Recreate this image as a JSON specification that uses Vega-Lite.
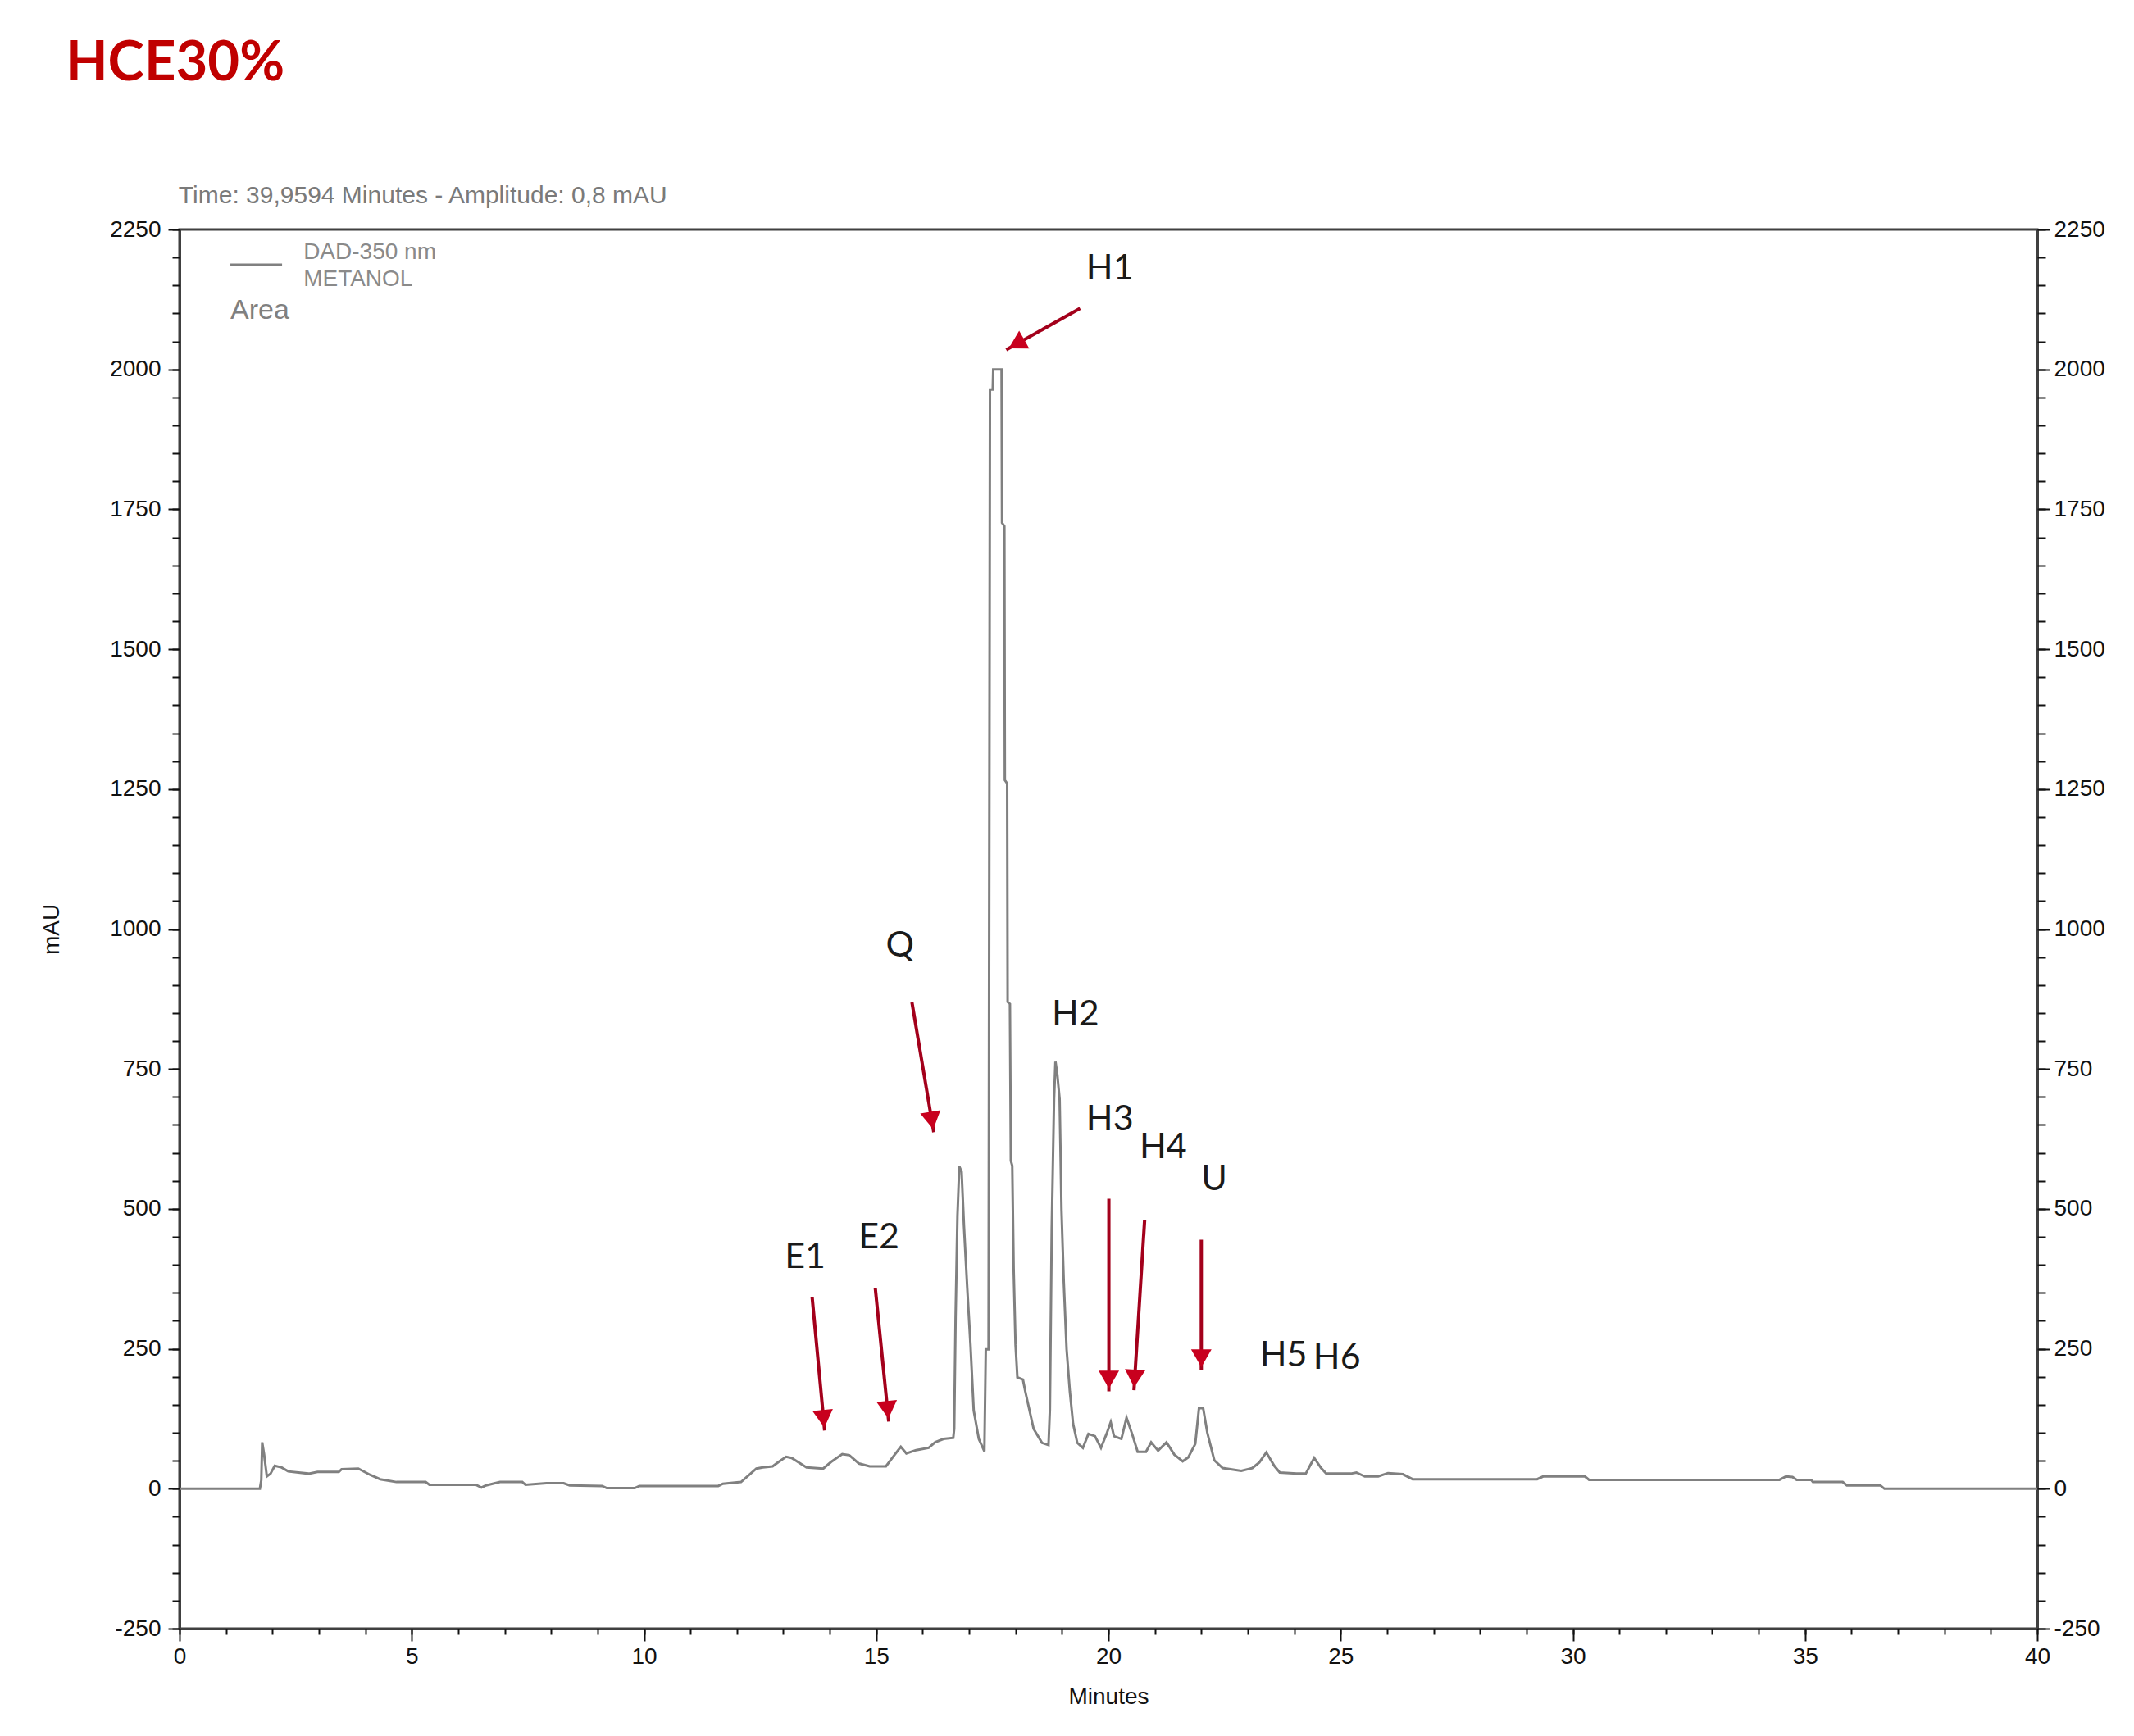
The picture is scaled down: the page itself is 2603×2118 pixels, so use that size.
{
  "$schema": "https://vega.github.io/schema/vega-lite/v6.json",
  "width": 2266,
  "height": 1707,
  "autosize": {"type": "none"},
  "padding": {"left": 219, "top": 280, "right": 118, "bottom": 131},
  "background": "white",
  "view": {"stroke": "#404040", "strokeWidth": 3},
  "title": {
    "text": "HCE30%",
    "anchor": "start",
    "frame": "group",
    "dx": -139,
    "offset": 59,
    "baseline": "alphabetic",
    "font": "Lato",
    "fontSize": 67,
    "fontWeight": "bold",
    "color": "#C00000"
  },
  "config": {
    "axis": {
      "domainColor": "#404040",
      "domainWidth": 3,
      "tickColor": "#111111",
      "tickWidth": 2,
      "labelFont": "'Liberation Sans Narrow', 'Liberation Sans', Arial, sans-serif",
      "labelFontSize": 28,
      "labelColor": "#111111",
      "titleFont": "'Liberation Sans', Arial, sans-serif",
      "titleFontSize": 28,
      "titleFontWeight": "normal",
      "titleColor": "#111111",
      "grid": false,
      "labelFlush": false,
      "labelOverlap": false,
      "labelBound": false
    }
  },
  "datasets": {
    "curve": [
      {"t": 0, "v": 0}, {"t": 1.73, "v": 0}, {"t": 1.76, "v": 15}, {"t": 1.78, "v": 83}, {"t": 1.82, "v": 62},
      {"t": 1.88, "v": 22}, {"t": 1.96, "v": 27}, {"t": 2.05, "v": 41}, {"t": 2.2, "v": 38}, {"t": 2.34, "v": 31},
      {"t": 2.78, "v": 27}, {"t": 2.97, "v": 30}, {"t": 3.43, "v": 30}, {"t": 3.49, "v": 35}, {"t": 3.85, "v": 36},
      {"t": 4.1, "v": 25}, {"t": 4.32, "v": 17}, {"t": 4.67, "v": 12}, {"t": 5.3, "v": 12}, {"t": 5.38, "v": 7},
      {"t": 6.38, "v": 7}, {"t": 6.5, "v": 2}, {"t": 6.6, "v": 6}, {"t": 6.9, "v": 12}, {"t": 7.38, "v": 12},
      {"t": 7.45, "v": 7}, {"t": 7.9, "v": 10}, {"t": 8.27, "v": 10}, {"t": 8.4, "v": 6}, {"t": 9.1, "v": 5},
      {"t": 9.2, "v": 1}, {"t": 9.8, "v": 1}, {"t": 9.9, "v": 5}, {"t": 11.6, "v": 5}, {"t": 11.7, "v": 9},
      {"t": 12.09, "v": 12}, {"t": 12.42, "v": 36}, {"t": 12.56, "v": 38}, {"t": 12.77, "v": 40}, {"t": 12.9, "v": 48},
      {"t": 13.06, "v": 57}, {"t": 13.18, "v": 55}, {"t": 13.5, "v": 38}, {"t": 13.86, "v": 36}, {"t": 14.03, "v": 48},
      {"t": 14.27, "v": 62}, {"t": 14.42, "v": 60}, {"t": 14.63, "v": 45}, {"t": 14.86, "v": 40}, {"t": 15.21, "v": 40},
      {"t": 15.39, "v": 60}, {"t": 15.53, "v": 75}, {"t": 15.65, "v": 63}, {"t": 15.86, "v": 69}, {"t": 16.13, "v": 73},
      {"t": 16.27, "v": 83}, {"t": 16.45, "v": 89}, {"t": 16.66, "v": 91}, {"t": 16.68, "v": 107}, {"t": 16.71, "v": 307},
      {"t": 16.75, "v": 488}, {"t": 16.79, "v": 576}, {"t": 16.84, "v": 566}, {"t": 16.89, "v": 470}, {"t": 16.96, "v": 360},
      {"t": 17.03, "v": 258}, {"t": 17.1, "v": 140}, {"t": 17.21, "v": 89}, {"t": 17.33, "v": 67}, {"t": 17.36, "v": 249},
      {"t": 17.42, "v": 249}, {"t": 17.45, "v": 1964}, {"t": 17.51, "v": 1964}, {"t": 17.52, "v": 2000}, {"t": 17.7, "v": 2000},
      {"t": 17.71, "v": 1726}, {"t": 17.76, "v": 1720}, {"t": 17.77, "v": 1266}, {"t": 17.82, "v": 1260}, {"t": 17.83, "v": 870},
      {"t": 17.88, "v": 866}, {"t": 17.9, "v": 586}, {"t": 17.93, "v": 577}, {"t": 17.96, "v": 393}, {"t": 18.0, "v": 258},
      {"t": 18.04, "v": 199}, {"t": 18.16, "v": 195}, {"t": 18.21, "v": 174}, {"t": 18.39, "v": 107}, {"t": 18.57, "v": 82},
      {"t": 18.71, "v": 78}, {"t": 18.74, "v": 141}, {"t": 18.78, "v": 464}, {"t": 18.83, "v": 696}, {"t": 18.86, "v": 763},
      {"t": 18.9, "v": 740}, {"t": 18.95, "v": 696}, {"t": 18.99, "v": 498}, {"t": 19.04, "v": 368}, {"t": 19.1, "v": 249},
      {"t": 19.17, "v": 174}, {"t": 19.24, "v": 116}, {"t": 19.33, "v": 82}, {"t": 19.45, "v": 73}, {"t": 19.57, "v": 98},
      {"t": 19.71, "v": 94}, {"t": 19.84, "v": 73}, {"t": 19.96, "v": 98}, {"t": 20.05, "v": 119}, {"t": 20.12, "v": 94},
      {"t": 20.28, "v": 89}, {"t": 20.39, "v": 127}, {"t": 20.51, "v": 98}, {"t": 20.63, "v": 66}, {"t": 20.81, "v": 66},
      {"t": 20.92, "v": 83}, {"t": 21.07, "v": 68}, {"t": 21.25, "v": 83}, {"t": 21.42, "v": 61}, {"t": 21.6, "v": 49},
      {"t": 21.72, "v": 56}, {"t": 21.87, "v": 80}, {"t": 21.95, "v": 144}, {"t": 22.04, "v": 144}, {"t": 22.13, "v": 100},
      {"t": 22.28, "v": 51}, {"t": 22.46, "v": 37}, {"t": 22.86, "v": 32}, {"t": 23.1, "v": 37}, {"t": 23.25, "v": 47},
      {"t": 23.4, "v": 65}, {"t": 23.57, "v": 41}, {"t": 23.69, "v": 29}, {"t": 24.05, "v": 27}, {"t": 24.25, "v": 27},
      {"t": 24.34, "v": 41}, {"t": 24.43, "v": 55}, {"t": 24.58, "v": 37}, {"t": 24.69, "v": 27}, {"t": 25.22, "v": 27},
      {"t": 25.34, "v": 29}, {"t": 25.52, "v": 22}, {"t": 25.81, "v": 22}, {"t": 26.02, "v": 28}, {"t": 26.34, "v": 26},
      {"t": 26.55, "v": 17}, {"t": 29.23, "v": 17}, {"t": 29.36, "v": 22}, {"t": 30.26, "v": 22}, {"t": 30.35, "v": 16},
      {"t": 34.45, "v": 16}, {"t": 34.59, "v": 22}, {"t": 34.73, "v": 21}, {"t": 34.82, "v": 16}, {"t": 35.13, "v": 16},
      {"t": 35.17, "v": 12}, {"t": 35.81, "v": 12}, {"t": 35.9, "v": 6}, {"t": 36.62, "v": 6}, {"t": 36.71, "v": 0},
      {"t": 40, "v": 0}
    ],
    "arrows": [
      {"label": "E1", "x1": 13.62, "y1": 343, "x2": 13.89, "y2": 104},
      {"label": "E2", "x1": 14.98, "y1": 359, "x2": 15.27, "y2": 120},
      {"label": "Q", "x1": 15.77, "y1": 869, "x2": 16.24, "y2": 637},
      {"label": "H1", "x1": 19.39, "y1": 2109, "x2": 17.8, "y2": 2035},
      {"label": "H3", "x1": 20.01, "y1": 518, "x2": 20.01, "y2": 174},
      {"label": "H4", "x1": 20.78, "y1": 480, "x2": 20.55, "y2": 176},
      {"label": "U", "x1": 22.0, "y1": 445, "x2": 22.0, "y2": 212}
    ],
    "labels": [
      {"label": "E1", "tx": 13.47, "ty": 413},
      {"label": "E2", "tx": 15.06, "ty": 448},
      {"label": "Q", "tx": 15.51, "ty": 970},
      {"label": "H1", "tx": 20.03, "ty": 2180},
      {"label": "H2", "tx": 19.29, "ty": 847},
      {"label": "H3", "tx": 20.03, "ty": 660},
      {"label": "H4", "tx": 21.18, "ty": 609},
      {"label": "U", "tx": 22.28, "ty": 552},
      {"label": "H5", "tx": 23.77, "ty": 238},
      {"label": "H6", "tx": 24.92, "ty": 234}
    ],
    "notes": [
      {"kind": "legend", "text": "DAD-350 nm", "x": 2.668, "y": 2197},
      {"kind": "legend", "text": "METANOL", "x": 2.668, "y": 2149},
      {"kind": "area", "text": "Area", "x": 1.095, "y": 2090},
      {"kind": "time", "text": "Time:  39,9594 Minutes - Amplitude:  0,8 mAU", "x": -0.02, "y": 2297}
    ],
    "legendline": [
      {"x1": 1.095, "x2": 2.208, "y": 2187}
    ]
  },
  "layer": [
    {
      "data": {"name": "curve"},
      "mark": {"type": "line", "color": "#808080", "strokeWidth": 3},
      "encoding": {
        "x": {
          "field": "t", "type": "quantitative",
          "scale": {"domain": [0, 40], "nice": false, "zero": false},
          "axis": {"orient": "bottom", "values": [0, 5, 10, 15, 20, 25, 30, 35, 40], "tickSize": 15, "labelPadding": 5, "title": "Minutes", "titlePadding": 21, "labelExpr": "datum.value + ''"}
        },
        "y": {
          "field": "v", "type": "quantitative",
          "scale": {"domain": [-250, 2250], "nice": false, "zero": false},
          "axis": {"orient": "left", "values": [-250, 0, 250, 500, 750, 1000, 1250, 1500, 1750, 2000, 2250], "tickSize": 14, "labelPadding": 9, "title": "mAU", "titlePadding": 56, "labelExpr": "datum.value + ''"}
        }
      }
    },
    {
      "data": {"name": "arrows"},
      "mark": {"type": "rule", "color": "#A3001B", "strokeWidth": 4},
      "encoding": {
        "x": {
          "field": "x1", "type": "quantitative",
          "scale": {"domain": [0, 40], "nice": false, "zero": false},
          "axis": {"orient": "bottom", "values": [0,1,2,3,4,5,6,7,8,9,10,11,12,13,14,15,16,17,18,19,20,21,22,23,24,25,26,27,28,29,30,31,32,33,34,35,36,37,38,39,40], "tickSize": 7, "labels": false, "domain": false, "title": null}
        },
        "y": {
          "field": "y1", "type": "quantitative",
          "scale": {"domain": [-250, 2250], "nice": false, "zero": false},
          "axis": {"orient": "right", "values": [-250, 0, 250, 500, 750, 1000, 1250, 1500, 1750, 2000, 2250], "tickSize": 15, "labelPadding": 5, "title": null, "labelExpr": "datum.value + ''"}
        },
        "x2": {"field": "x2"},
        "y2": {"field": "y2"}
      }
    },
    {
      "data": {"name": "arrows"},
      "transform": [{"filter": "datum.label == 'E1' || datum.label == 'E2'"}],
      "mark": {"type": "point", "shape": "triangle-down", "filled": true, "color": "#C8001E", "opacity": 1, "size": 625, "angle": -5.5, "xOffset": -1.38, "yOffset": -14.33},
      "encoding": {
        "x": {"field": "x2", "type": "quantitative", "scale": {"domain": [0, 40], "nice": false, "zero": false}, "axis": null},
        "y": {
          "field": "y2", "type": "quantitative",
          "scale": {"domain": [-250, 2250], "nice": false, "zero": false},
          "axis": {"orient": "left", "values": [-250,-200,-150,-100,-50,0,50,100,150,200,250,300,350,400,450,500,550,600,650,700,750,800,850,900,950,1000,1050,1100,1150,1200,1250,1300,1350,1400,1450,1500,1550,1600,1650,1700,1750,1800,1850,1900,1950,2000,2050,2100,2150,2200,2250], "tickSize": 9, "labels": false, "domain": false, "title": null}
        }
      }
    },
    {
      "data": {"name": "arrows"},
      "transform": [{"filter": "datum.label == 'Q'"}],
      "mark": {"type": "point", "shape": "triangle-down", "filled": true, "color": "#C8001E", "opacity": 1, "size": 625, "angle": -9.6, "xOffset": -2.4, "yOffset": -14.2},
      "encoding": {
        "x": {"field": "x2", "type": "quantitative", "scale": {"domain": [0, 40], "nice": false, "zero": false}, "axis": null},
        "y": {
          "field": "y2", "type": "quantitative",
          "scale": {"domain": [-250, 2250], "nice": false, "zero": false},
          "axis": {"orient": "right", "values": [-250,-200,-150,-100,-50,0,50,100,150,200,250,300,350,400,450,500,550,600,650,700,750,800,850,900,950,1000,1050,1100,1150,1200,1250,1300,1350,1400,1450,1500,1550,1600,1650,1700,1750,1800,1850,1900,1950,2000,2050,2100,2150,2200,2250], "tickSize": 10, "labels": false, "domain": false, "title": null}
        }
      }
    },
    {
      "data": {"name": "arrows"},
      "transform": [{"filter": "datum.label == 'H1'"}],
      "mark": {"type": "point", "shape": "triangle-down", "filled": true, "color": "#C8001E", "opacity": 1, "size": 625, "angle": 60.5, "xOffset": 12.53, "yOffset": -7.09},
      "encoding": {
        "x": {"field": "x2", "type": "quantitative", "scale": {"domain": [0, 40], "nice": false, "zero": false}, "axis": null},
        "y": {"field": "y2", "type": "quantitative", "scale": {"domain": [-250, 2250], "nice": false, "zero": false}, "axis": null}
      }
    },
    {
      "data": {"name": "arrows"},
      "transform": [{"filter": "datum.label == 'H3' || datum.label == 'U'"}],
      "mark": {"type": "point", "shape": "triangle-down", "filled": true, "color": "#C8001E", "opacity": 1, "size": 625, "yOffset": -14.4},
      "encoding": {
        "x": {"field": "x2", "type": "quantitative", "scale": {"domain": [0, 40], "nice": false, "zero": false}, "axis": null},
        "y": {"field": "y2", "type": "quantitative", "scale": {"domain": [-250, 2250], "nice": false, "zero": false}, "axis": null}
      }
    },
    {
      "data": {"name": "arrows"},
      "transform": [{"filter": "datum.label == 'H4'"}],
      "mark": {"type": "point", "shape": "triangle-down", "filled": true, "color": "#C8001E", "opacity": 1, "size": 625, "angle": 3.3, "xOffset": 0.83, "yOffset": -14.38},
      "encoding": {
        "x": {"field": "x2", "type": "quantitative", "scale": {"domain": [0, 40], "nice": false, "zero": false}, "axis": null},
        "y": {"field": "y2", "type": "quantitative", "scale": {"domain": [-250, 2250], "nice": false, "zero": false}, "axis": null}
      }
    },
    {
      "data": {"name": "labels"},
      "mark": {"type": "text", "font": "Lato", "fontSize": 43, "color": "#1a1a1a", "align": "center", "baseline": "middle"},
      "encoding": {
        "x": {"field": "tx", "type": "quantitative", "scale": {"domain": [0, 40], "nice": false, "zero": false}, "axis": null},
        "y": {"field": "ty", "type": "quantitative", "scale": {"domain": [-250, 2250], "nice": false, "zero": false}, "axis": null},
        "text": {"field": "label"}
      }
    },
    {
      "data": {"name": "legendline"},
      "mark": {"type": "rule", "color": "#808080", "strokeWidth": 3},
      "encoding": {
        "x": {"field": "x1", "type": "quantitative", "scale": {"domain": [0, 40], "nice": false, "zero": false}, "axis": null},
        "x2": {"field": "x2"},
        "y": {"field": "y", "type": "quantitative", "scale": {"domain": [-250, 2250], "nice": false, "zero": false}, "axis": null}
      }
    },
    {
      "data": {"name": "notes"},
      "transform": [{"filter": "datum.kind == 'legend'"}],
      "mark": {"type": "text", "font": "'Liberation Sans', Arial, sans-serif", "fontSize": 28, "color": "#8a8a8a", "align": "left", "baseline": "alphabetic"},
      "encoding": {
        "x": {"field": "x", "type": "quantitative", "scale": {"domain": [0, 40], "nice": false, "zero": false}, "axis": null},
        "y": {"field": "y", "type": "quantitative", "scale": {"domain": [-250, 2250], "nice": false, "zero": false}, "axis": null},
        "text": {"field": "text"}
      }
    },
    {
      "data": {"name": "notes"},
      "transform": [{"filter": "datum.kind == 'area'"}],
      "mark": {"type": "text", "font": "'Liberation Sans', Arial, sans-serif", "fontSize": 34, "color": "#808080", "align": "left", "baseline": "alphabetic"},
      "encoding": {
        "x": {"field": "x", "type": "quantitative", "scale": {"domain": [0, 40], "nice": false, "zero": false}, "axis": null},
        "y": {"field": "y", "type": "quantitative", "scale": {"domain": [-250, 2250], "nice": false, "zero": false}, "axis": null},
        "text": {"field": "text"}
      }
    },
    {
      "data": {"name": "notes"},
      "transform": [{"filter": "datum.kind == 'time'"}],
      "mark": {"type": "text", "font": "'Liberation Sans', Arial, sans-serif", "fontSize": 30, "color": "#7a7a7a", "align": "left", "baseline": "alphabetic"},
      "encoding": {
        "x": {"field": "x", "type": "quantitative", "scale": {"domain": [0, 40], "nice": false, "zero": false}, "axis": null},
        "y": {"field": "y", "type": "quantitative", "scale": {"domain": [-250, 2250], "nice": false, "zero": false}, "axis": null},
        "text": {"field": "text"}
      }
    }
  ],
  "resolve": {"axis": {"x": "independent", "y": "independent"}}
}
